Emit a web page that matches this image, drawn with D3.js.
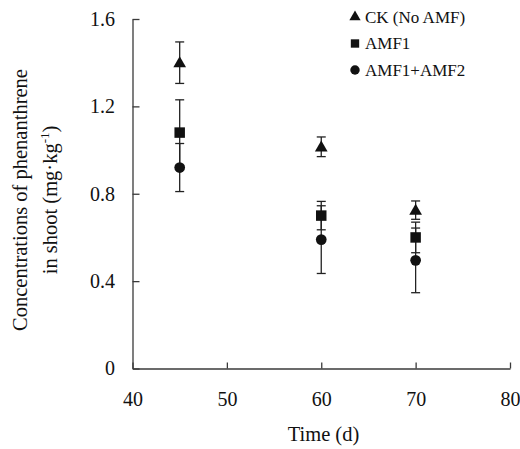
<!DOCTYPE html>
<html>
<head>
<meta charset="utf-8">
<script src="https://cdn.jsdelivr.net/npm/d3@7"></script>
<style>
  body { margin: 0; background: #fff; }
  svg text { font-family: "Liberation Serif", "Times New Roman", serif; fill: #111; }
</style>
</head>
<body>
<svg id="chart" width="520" height="449"></svg>
<script>
// sampling days and values
var days = [45, 60, 70]
var ckVals = [1.40, 1.015, 0.725]
var ckErr = [0.095, 0.045, 0.042]
var amf1Vals = [1.08, 0.70, 0.60]
var amf1Err = [0.15, 0.065, 0.07]
var amf12Vals = [0.92, 0.59, 0.495]
var amf12Err = [0.11, 0.155, 0.148]
var xTicks = [40, 50, 60, 70, 80]
var yTicks = [0, 0.4, 0.8, 1.2, 1.6]
var seriesNames = ['CK (No AMF)', 'AMF1', 'AMF1+AMF2']

var serif = '"Liberation Serif", "Times New Roman", serif'
var svg = d3.select('#chart').style('font-family', serif)
var x = d3.scaleLinear().domain([40, 80]).range([132.5, 510])
var y = d3.scaleLinear().domain([0, 1.6]).range([368.5, 19])

var axisColor = '#3a3a3a'

var gx = svg.append('g').attr('transform', 'translate(0,' + y(0) + ')')
  .call(d3.axisBottom(x).tickValues(xTicks).tickSizeInner(-6).tickSizeOuter(0).tickPadding(23))
var gy = svg.append('g').attr('transform', 'translate(' + x(40) + ',0)')
  .call(d3.axisLeft(y).tickValues(yTicks).tickSizeInner(-7).tickSizeOuter(0).tickPadding(17.5)
    .tickFormat(function(d) { return d === 0 ? '0' : d.toFixed(1) }))

;[gx, gy].forEach(function(g) {
  g.attr('font-family', null).attr('font-size', null)
  g.selectAll('path, line').attr('stroke', axisColor).attr('stroke-width', 1.3)
  g.selectAll('text').style('font-family', serif).style('font-size', '20px').attr('fill', '#111')
})

svg.append('text')
  .attr('x', 323.5).attr('y', 441)
  .attr('text-anchor', 'middle').style('font-size', '20.5px')
  .text('Time (d)')

var yl = svg.append('g').attr('transform', 'translate(0,200) rotate(-90)')
yl.append('text').attr('x', 0).attr('y', 26.5).attr('text-anchor', 'middle').style('font-size', '20.5px')
  .text('Concentrations of phenanthrene')
var l2 = yl.append('text').attr('x', 0).attr('y', 57).attr('text-anchor', 'middle').style('font-size', '20.5px')
l2.append('tspan').text('in shoot (mg·kg')
l2.append('tspan').attr('dy', -8).style('font-size', '13px').text('-1')
l2.append('tspan').attr('dy', 8).text(')')

var series = [
  {vals: ckVals, err: ckErr, shape: d3.symbolTriangle, size: 70},
  {vals: amf1Vals, err: amf1Err, shape: d3.symbolSquare, size: 110},
  {vals: amf12Vals, err: amf12Err, shape: d3.symbolCircle, size: 90}
]

// error bars first, markers on top
series.forEach(function(s) {
  var pts = days.map(function(d, i) { return {d: d, v: s.vals[i], e: s.err[i]} })
  var g = svg.append('g').attr('stroke', '#222').attr('stroke-width', 1.3)
  var eb = g.selectAll('g.eb').data(pts).enter().append('g').attr('class', 'eb')
  eb.append('line')
    .attr('x1', function(p) { return x(p.d) }).attr('x2', function(p) { return x(p.d) })
    .attr('y1', function(p) { return y(p.v + p.e) }).attr('y2', function(p) { return y(p.v - p.e) })
  ;[1, -1].forEach(function(sign) {
    eb.append('line')
      .attr('x1', function(p) { return x(p.d) - 4.5 }).attr('x2', function(p) { return x(p.d) + 4.5 })
      .attr('y1', function(p) { return y(p.v + sign * p.e) }).attr('y2', function(p) { return y(p.v + sign * p.e) })
  })
})

series.forEach(function(s) {
  var sym = d3.symbol().type(s.shape).size(s.size)
  svg.append('g').selectAll('path').data(days).enter().append('path')
    .attr('d', sym)
    .attr('fill', '#111')
    .attr('transform', function(d, i) {
      var dy = s.shape === d3.symbolTriangle ? 1 : 0
      return 'translate(' + x(d) + ',' + (y(s.vals[i]) + dy) + ')'
    })
})

// legend
var legSizes = [55, 70, 70]
var leg = svg.append('g').selectAll('g').data(seriesNames).enter().append('g')
  .attr('transform', function(d, i) { return 'translate(355,' + (17 + i * 26.5) + ')' })
leg.append('path')
  .attr('d', function(d, i) { return d3.symbol().type(series[i].shape).size(legSizes[i])() })
  .attr('fill', '#111')
leg.append('text').attr('x', 10).attr('y', 5.5).style('font-size', '17px').text(function(d) { return d })
</script>
</body>
</html>
